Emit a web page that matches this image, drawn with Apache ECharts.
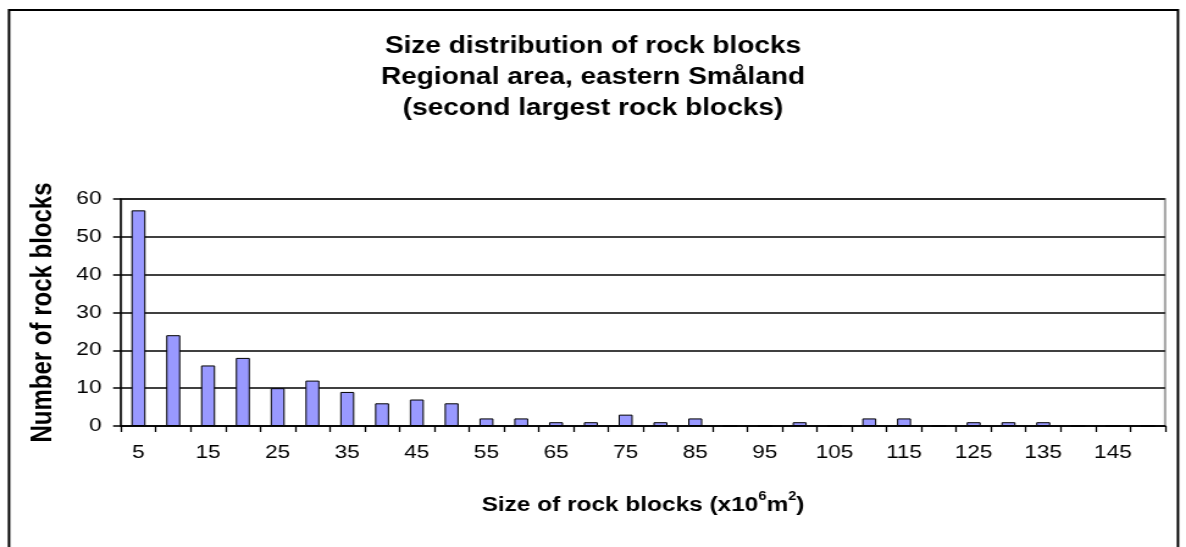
<!DOCTYPE html>
<html>
<head>
<meta charset="utf-8">
<script src="https://cdn.jsdelivr.net/npm/echarts@6/dist/echarts.min.js"></script>
<style>
html,body{margin:0;padding:0;background:#fff;overflow:hidden;}
#chart{width:972px;height:547px;transform:scaleX(1.2202);transform-origin:0 0;}
</style>
</head>
<body>
<div id="chart"></div>
<script>
const categories = ['5','10','15','20','25','30','35','40','45','50','55','60','65','70','75','80','85','90','95','100','105','110','115','120','125','130','135','140','145','150'];
const counts = [57,24,16,18,10,12,9,6,7,6,2,2,1,1,3,1,2,0,0,1,0,2,2,0,1,1,1,0,0,0];
const titleLines = ['Size distribution of rock blocks','Regional area, eastern Småland','(second largest rock blocks)'];
const yTitle = 'Number of rock blocks';
const xTitle = '{b|Size of rock blocks (x10}{s|6}{b|m}{s|2}{b|)}';

const chart = echarts.init(document.getElementById('chart'), null, {renderer:'canvas'});
const FF = '"Liberation Sans", Arial, sans-serif';
chart.setOption({
  backgroundColor:'#fff',
  animation:false,
  title:{
    text: titleLines.join('\n'),
    left:'center', top:26,
    textStyle:{fontFamily:FF, fontWeight:'bold', fontSize:23, lineHeight:31, color:'#000'}
  },
  graphic:[
    {type:'rect', shape:{x:7.4,y:10,width:958,height:560}, style:{fill:'none', stroke:'#000', lineWidth:2}, silent:true}
  ],
  grid:{left:99.2, right:17.2, top:199, bottom:121, show:true, borderColor:'#a0a0a0', borderWidth:2, backgroundColor:'#fff'},
  xAxis:{
    type:'category',
    data:categories,
    boundaryGap:true,
    name:xTitle,
    nameLocation:'middle',
    nameGap:65,
    nameTextStyle:{
      rich:{
        b:{fontFamily:FF, fontWeight:'bold', fontSize:20, color:'#000', verticalAlign:'bottom', lineHeight:24},
        s:{fontFamily:FF, fontWeight:'bold', fontSize:12, color:'#000', verticalAlign:'top', lineHeight:24, padding:[0,0,8,0]}
      }
    },
    axisLine:{lineStyle:{color:'#000', width:1.5}},
    axisTick:{show:true, interval:0, length:6, lineStyle:{color:'#000', width:1.3}},
    axisLabel:{interval:1, fontFamily:FF, fontSize:18.5, color:'#000', margin:17},
    splitLine:{show:false}
  },
  yAxis:{
    type:'value',
    min:0, max:60, interval:10,
    name:yTitle,
    nameLocation:'middle',
    nameGap:52,
    nameTextStyle:{fontFamily:FF, fontWeight:'bold', fontSize:24, color:'#000'},
    axisLine:{show:true, lineStyle:{color:'#000', width:1.5}},
    axisTick:{show:true, length:6.5, lineStyle:{color:'#000', width:1.5}},
    axisLabel:{fontFamily:FF, fontSize:18.5, color:'#000', margin:16},
    splitLine:{show:true, lineStyle:{color:'#000', width:1.5}}
  },
  series:[{
    type:'bar',
    data:counts,
    barWidth:11.5,
    itemStyle:{color:'#9999ff', borderColor:'#000', borderWidth:1},
    z:3
  }]
});
</script>
</body>
</html>
